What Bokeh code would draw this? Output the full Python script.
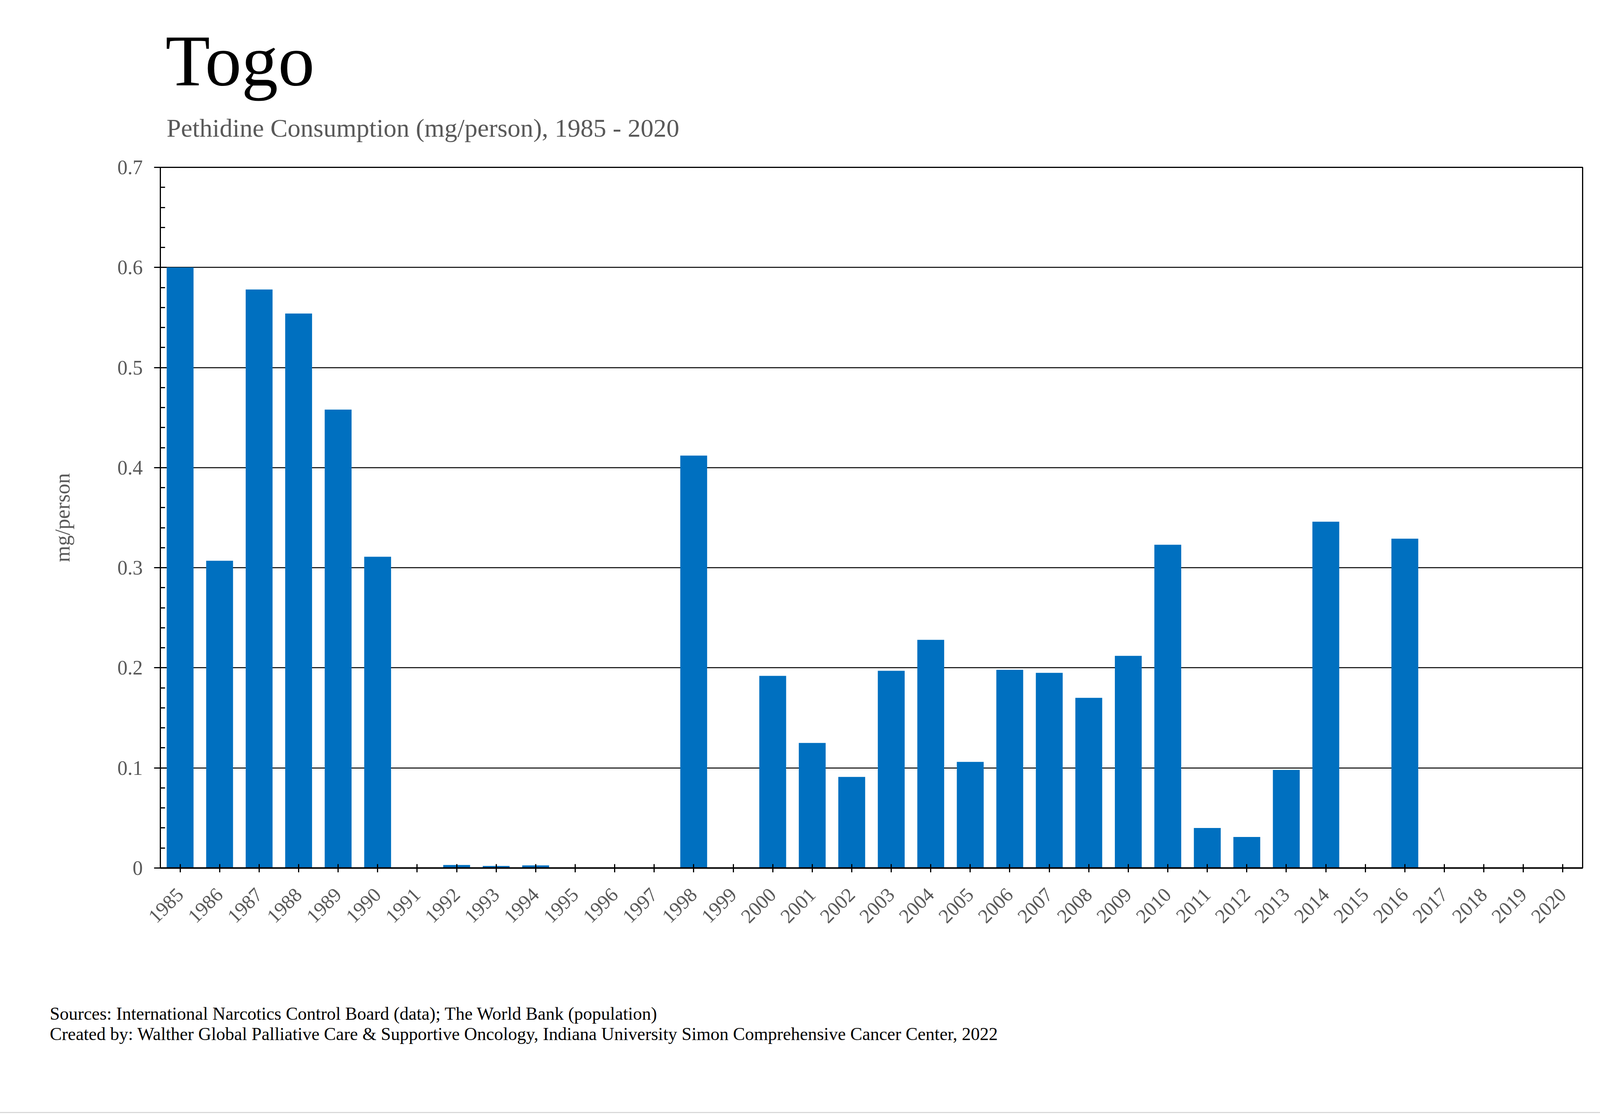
from bokeh.plotting import figure
from bokeh.models import (ColumnDataSource, FactorRange, Range1d, Title,
                          FixedTicker, BasicTickFormatter)
from bokeh.embed import file_html
from bokeh.resources import INLINE
import math

# ---- data ----
years = ["1985", "1986", "1987", "1988", "1989", "1990", "1991", "1992", "1993",
         "1994", "1995", "1996", "1997", "1998", "1999", "2000", "2001", "2002",
         "2003", "2004", "2005", "2006", "2007", "2008", "2009", "2010", "2011",
         "2012", "2013", "2014", "2015", "2016", "2017", "2018", "2019", "2020"]
consumption = [0.600, 0.307, 0.578, 0.554, 0.458, 0.311, 0.0, 0.003, 0.002,
               0.0026, 0.0, 0.0, 0.0, 0.412, 0.0, 0.192, 0.125, 0.091,
               0.197, 0.228, 0.106, 0.198, 0.195, 0.170, 0.212, 0.323, 0.040,
               0.031, 0.098, 0.346, 0.0, 0.329, 0.0, 0.0, 0.0, 0.0]
y_ticks = [0, 0.1, 0.2, 0.3, 0.4, 0.5, 0.6, 0.7]
y_tick_labels = {0: "0", 0.1: "0.1", 0.2: "0.2", 0.3: "0.3", 0.4: "0.4",
                 0.5: "0.5", 0.6: "0.6", 0.7: "0.7"}

title_text = "Togo"
subtitle_text = "Pethidine Consumption (mg/person), 1985 - 2020"
y_label = "mg/person"
source_text = ("Sources: International Narcotics Control Board (data); The World Bank (population)\n"
               "Created by: Walther Global Palliative Care & Supportive Oncology, "
               "Indiana University Simon Comprehensive Cancer Center, 2022")

FONT = "Liberation Serif"
GRAY = "#595959"

src = ColumnDataSource(data=dict(year=years, value=consumption))

p = figure(width=4200, height=2844, title=None,
           x_range=FactorRange(factors=years, range_padding=0),
           y_range=Range1d(0, 0.7),
           output_backend="svg", toolbar_location=None,
           min_border_left=410, min_border_right=149,
           min_border_top=428, min_border_bottom=622,
           styles={"outline": "3px solid #d9d9d9", "outline-offset": "3px"})

p.vbar(x="year", top="value", width=0.68, source=src,
       fill_color="#0070C0", line_color=None)

# frame
p.outline_line_color = "black"
p.outline_line_width = 3
p.outline_line_alpha = 1.0
p.background_fill_color = "white"
p.border_fill_color = "white"

# y axis
minor = [round(i * 0.02, 2) for i in range(0, 36) if i % 5 != 0]
yax = p.yaxis[0]
yax.ticker = FixedTicker(ticks=y_ticks, minor_ticks=minor)
yax.formatter = BasicTickFormatter(precision=1)
yax.major_label_overrides = y_tick_labels
yax.axis_line_color = "black"
yax.axis_line_width = 3
yax.major_tick_in = 16
yax.major_tick_out = 16
yax.major_tick_line_width = 3
yax.major_tick_line_color = "black"
yax.minor_tick_in = 12
yax.minor_tick_out = 0
yax.minor_tick_line_width = 3
yax.minor_tick_line_color = "black"
yax.major_label_text_font = FONT
yax.major_label_text_font_size = "52px"
yax.major_label_text_color = GRAY
yax.major_label_standoff = 29
yax.axis_label = y_label
yax.axis_label_text_font = FONT
yax.axis_label_text_font_size = "54px"
yax.axis_label_text_font_style = "normal"
yax.axis_label_text_color = GRAY
yax.axis_label_standoff = 108

# grid
p.xgrid.visible = False
p.ygrid.ticker = FixedTicker(ticks=y_ticks)
p.ygrid.grid_line_color = "black"
p.ygrid.grid_line_width = 2.5

# x axis
xax = p.xaxis[0]
xax.axis_line_color = "black"
xax.axis_line_width = 4
xax.major_tick_in = 10
xax.major_tick_out = 11
xax.major_tick_line_width = 3
xax.major_tick_line_color = "black"
xax.major_label_orientation = math.pi / 4
xax.major_label_text_font = FONT
xax.major_label_text_font_size = "51px"
xax.major_label_text_color = GRAY
xax.major_label_standoff = 49

# ---- titles above (inner -> outer) ----
p.add_layout(Title(text=" ", text_font_size="1px", standoff=62), "above")
p.add_layout(Title(text=subtitle_text, text_font=FONT, text_font_size="66px",
                   text_font_style="normal", text_color=GRAY, align="left",
                   offset=16, standoff=0, vertical_align="bottom"), "above")
p.add_layout(Title(text=title_text, text_font=FONT, text_font_size="187px",
                   text_font_style="normal", text_color="black", align="left",
                   offset=13, standoff=62, vertical_align="bottom"), "above")

# ---- source notes below ----
p.add_layout(Title(text=" ", text_font_size="1px", standoff=186), "below")
p.add_layout(Title(text=source_text, text_font=FONT, text_font_size="46px",
                   text_font_style="normal", text_color="black", align="left",
                   offset=-283, standoff=0, vertical_align="top",
                   text_line_height=1.02), "below")

open("out.html", "w").write(file_html(p, INLINE))
